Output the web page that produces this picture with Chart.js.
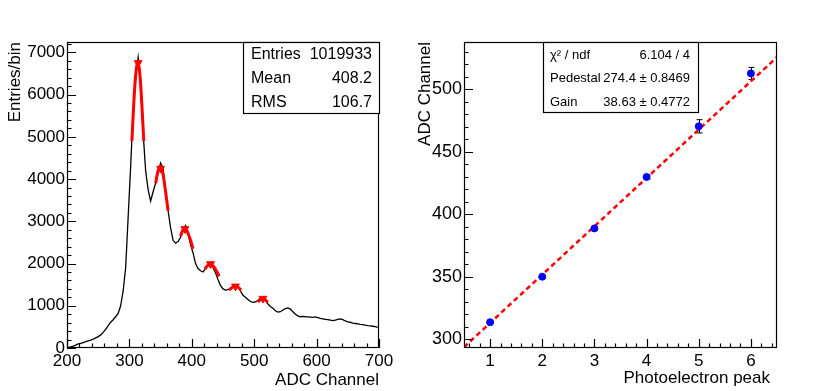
<!DOCTYPE html>
<html>
<head>
<meta charset="utf-8">
<script src="https://cdn.jsdelivr.net/npm/chart.js@4"></script>
<style>
  body { margin: 0; background: #fff; }
  #wrap { position: relative; width: 814px; height: 391px; }
  canvas { position: absolute; top: 0; }
  #left { left: 0; }
  #right { left: 407px; }
</style>
</head>
<body>
<div id="wrap">
  <canvas id="left" width="407" height="391"></canvas>
  <canvas id="right" width="407" height="391"></canvas>
</div>
<script>
// ADC spectrum, 4 channel bins starting at channel 200
const binStart = 200;
const binWidth = 4;
const counts = [
  10, 25, 45, 70, 95, 110, 130, 150, 170, 185,
  210, 240, 270, 310, 370, 440, 530, 610, 670, 740,
  820, 1000, 1350, 1900, 3100, 4300, 5600, 6400, 6880, 6300,
  5100, 4200, 3750, 3480, 3700, 3900, 4150, 4380, 4250, 3700,
  3250, 2850, 2550, 2480, 2520, 2620, 2800, 2900, 2700, 2450,
  2250, 2000, 1880, 1830, 1800, 1880, 1960, 2000, 1900, 1780,
  1620, 1480, 1400, 1370, 1380, 1410, 1440, 1460, 1440, 1350,
  1250, 1200, 1150, 1100, 1080, 1090, 1130, 1180, 1190, 1130,
  1040, 980, 940, 880, 850, 860, 900, 930, 950, 920,
  860, 800, 760, 740, 750, 740, 735, 730, 725, 735,
  720, 700, 690, 680, 670, 660, 650, 660, 680, 690,
  670, 640, 620, 610, 590, 580, 570, 560, 555, 540,
  530, 525, 515, 505, 490
];

// gaussian fits on the photoelectron peaks: [channel, entries]
const fits = [
  [[304, 4900], [306, 5500], [308, 6050], [310, 6450], [312, 6700], [314, 6750], [316, 6600], [318, 6250], [320, 5750], [322, 5200], [323, 4900]],
  [[342, 3900], [346, 4200], [350, 4300], [354, 4100], [358, 3700], [362, 3250]],
  [[382, 2650], [386, 2800], [389, 2830], [393, 2750], [398, 2550], [402, 2350]],
  [[421, 1870], [426, 1960], [430, 1990], [435, 1930], [440, 1810], [444, 1700]],
  [[460, 1370], [465, 1440], [470, 1460], [475, 1430], [479, 1370]],
  [[506, 1090], [510, 1150], [514, 1170], [518, 1140], [522, 1080]]
];
const peakX = [314, 350, 389, 430, 470, 514];
const peakY = [6750, 4250, 2820, 1990, 1460, 1170];

// gain calibration
const peNumber = [1, 2, 3, 4, 5, 6];
const peMean = [313.6, 350.0, 388.6, 429.7, 470.2, 512.5];
const peError = [1.0, 1.1, 1.3, 1.6, 5.3, 4.8];
const fitLineX = [0.5, 6.5];
const fitLineY = [293.7, 525.5];

// tick labels
const leftXTicks = [200, 300, 400, 500, 600, 700];
const leftYTicks = [0, 1000, 2000, 3000, 4000, 5000, 6000, 7000];
const rightXTicks = [1, 2, 3, 4, 5, 6];
const rightYTicks = [300, 350, 400, 450, 500];

const leftStats = [['Entries', '1019933'], ['Mean', '408.2'], ['RMS', '106.7']];
const rightStats = [['\u03c7\u00b2 / ndf', '6.104 / 4'], ['Pedestal', '274.4 \u00b1 0.8469'], ['Gain', '38.63 \u00b1 0.4772']];

const FONT = "'Liberation Sans', Arial, sans-serif";
Chart.defaults.font.family = FONT;
Chart.defaults.color = '#000';

// ROOT-like frame with ticks drawn inside
function rootFrame(xStep, xMajor, yStep, yMajor) {
  return {
    id: 'rootFrame',
    afterDraw(chart) {
      const { ctx, chartArea: a, scales: { x, y } } = chart;
      ctx.save();
      ctx.strokeStyle = '#000';
      ctx.lineWidth = 1.2;
      ctx.strokeRect(a.left + 0.5, a.top + 0.5, a.right - a.left - 1, a.bottom - a.top - 1);
      ctx.beginPath();
      let i0 = Math.ceil(x.min / xStep - 1e-6), i1 = Math.floor(x.max / xStep + 1e-6);
      for (let i = i0; i <= i1; i++) {
        const px = Math.round(x.getPixelForValue(i * xStep)) + 0.5;
        const len = i % xMajor === 0 ? 9 : 4.5;
        ctx.moveTo(px, a.bottom);
        ctx.lineTo(px, a.bottom - len);
      }
      i0 = Math.ceil(y.min / yStep - 1e-6);
      i1 = Math.floor(y.max / yStep + 1e-6);
      for (let i = i0; i <= i1; i++) {
        const py = Math.round(y.getPixelForValue(i * yStep)) + 0.5;
        const len = i % yMajor === 0 ? 9 : 4.5;
        ctx.moveTo(a.left, py);
        ctx.lineTo(a.left + len, py);
      }
      ctx.stroke();
      ctx.restore();
    }
  };
}

function statsBox(box, rows, size, labelX, valueX, rowY) {
  return {
    id: 'statsBox',
    afterDraw(chart) {
      const ctx = chart.ctx;
      ctx.save();
      ctx.fillStyle = '#fff';
      ctx.fillRect(box[0], box[1], box[2], box[3]);
      ctx.strokeStyle = '#000';
      ctx.lineWidth = 1.2;
      ctx.strokeRect(box[0] + 0.5, box[1] + 0.5, box[2], box[3]);
      ctx.fillStyle = '#000';
      ctx.font = size + 'px ' + FONT;
      ctx.textBaseline = 'middle';
      rows.forEach((r, i) => {
        ctx.textAlign = 'left';
        ctx.fillText(r[0], labelX, rowY[i]);
        ctx.textAlign = 'right';
        ctx.fillText(r[1], valueX, rowY[i]);
      });
      ctx.restore();
    }
  };
}

// x title drawn by hand so it can sit a bit left of the frame edge
function xTitle(text, rightX, cy) {
  return {
    id: 'xTitle',
    afterDraw(chart) {
      const ctx = chart.ctx;
      ctx.save();
      ctx.fillStyle = '#000';
      ctx.font = '17px ' + FONT;
      ctx.textAlign = 'right';
      ctx.textBaseline = 'middle';
      ctx.fillText(text, rightX, cy);
      ctx.restore();
    }
  };
}

const errorBars = {
  id: 'errorBars',
  beforeDatasetsDraw(chart) {
    const { ctx, scales: { x, y } } = chart;
    ctx.save();
    ctx.strokeStyle = '#000';
    ctx.lineWidth = 1;
    ctx.beginPath();
    peNumber.forEach((n, i) => {
      const px = Math.round(x.getPixelForValue(n)) + 0.5;
      const top = y.getPixelForValue(peMean[i] + peError[i]);
      const bot = y.getPixelForValue(peMean[i] - peError[i]);
      ctx.moveTo(px, top); ctx.lineTo(px, bot);
      ctx.moveTo(px - 3, top); ctx.lineTo(px + 3, top);
      ctx.moveTo(px - 3, bot); ctx.lineTo(px + 3, bot);
    });
    ctx.stroke();
    ctx.restore();
  }
};

function axis(min, max, tickValues, size, pad, title, fitDim) {
  return {
    type: 'linear',
    min: min,
    max: max,
    afterBuildTicks: s => { s.ticks = tickValues.map(v => ({ value: v })); },
    afterFit: fitDim,
    grid: { display: false, drawTicks: false },
    border: { display: false },
    ticks: { padding: pad, font: { size: size }, maxRotation: 0, autoSkip: false, callback: v => String(v) },
    title: title
  };
}

const histData = counts.map((c, i) => ({ x: binStart + binWidth * (i + 0.5), y: c }));
const leftSets = [{
  data: [{ x: binStart, y: 0 }].concat(histData),
  borderColor: '#000',
  borderWidth: 1.3,
  pointRadius: 0,
  order: 3
}];
fits.forEach(f => {
  leftSets.push({
    data: f.map(p => ({ x: p[0], y: p[1] })),
    borderColor: '#ff0000',
    borderWidth: 3,
    cubicInterpolationMode: 'monotone',
    pointRadius: 0,
    order: 2
  });
});
leftSets.push({
  data: peakX.map((v, i) => ({ x: v, y: peakY[i] })),
  showLine: false,
  pointStyle: 'triangle',
  rotation: 180,
  pointRadius: 4.5,
  pointBackgroundColor: '#ff0000',
  pointBorderColor: '#ff0000',
  order: 1
});

new Chart(document.getElementById('left'), {
  type: 'line',
  data: { datasets: leftSets },
  options: {
    responsive: false,
    animation: false,
    devicePixelRatio: 1,
    layout: { padding: { left: 0, right: 28, top: 42, bottom: 0 } },
    plugins: { legend: { display: false }, tooltip: { enabled: false } },
    scales: {
      x: axis(200, 700, leftXTicks, 17, 3,
        { display: true, text: 'ADC Channel', align: 'end', font: { size: 17 }, padding: { top: 0, bottom: 0 } },
        s => { s.height = 43; }),
      y: axis(0, 7245, leftYTicks, 17, 2,
        { display: true, text: 'Entries/bin', align: 'end', font: { size: 17 }, padding: { top: 5, bottom: 0 } },
        s => { s.width = 67; })
    }
  },
  plugins: [rootFrame(20, 5, 200, 5), statsBox([243, 42, 136, 71], leftStats, 16, 251, 372, [55, 79, 103])]
});

new Chart(document.getElementById('right'), {
  type: 'line',
  data: {
    datasets: [{
      data: peNumber.map((n, i) => ({ x: n, y: peMean[i] })),
      showLine: false,
      pointRadius: 3.5,
      pointBackgroundColor: '#0000ff',
      pointBorderColor: '#0000ff',
      order: 1
    }, {
      data: fitLineX.map((v, i) => ({ x: v, y: fitLineY[i] })),
      borderColor: '#ff0000',
      borderWidth: 2.5,
      borderDash: [5, 3.5],
      pointRadius: 0,
      order: 2
    }]
  },
  options: {
    responsive: false,
    animation: false,
    devicePixelRatio: 1,
    layout: { padding: { left: 0, right: 37, top: 42, bottom: 0 } },
    plugins: { legend: { display: false }, tooltip: { enabled: false } },
    scales: {
      x: axis(0.5, 6.5, rightXTicks, 17, 3, { display: false }, s => { s.height = 43; }),
      y: axis(293, 537.6, rightYTicks, 18, 2,
        { display: true, text: 'ADC Channel', align: 'end', font: { size: 17 }, padding: { top: 8, bottom: 0 } },
        s => { s.width = 57; })
    }
  },
  plugins: [errorBars, rootFrame(0.2, 5, 10, 5),
    statsBox([136, 42, 155, 70], rightStats, 13, 143, 283, [55, 78, 102]),
    xTitle('Photoelectron peak', 363, 378)]
});
</script>
</body>
</html>
